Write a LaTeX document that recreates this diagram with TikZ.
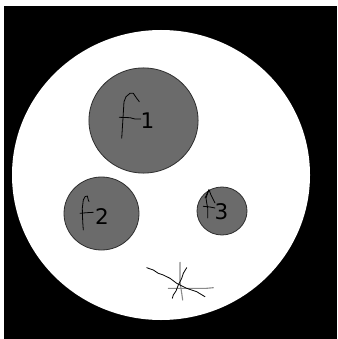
\documentclass[tikz,border=0pt]{standalone}
\usepackage{fontspec}
\setmainfont{DejaVu Sans}
\definecolor{blobgray}{HTML}{6B6B6B}
\definecolor{rimgray}{HTML}{2E2E2E}
\definecolor{scribgray}{HTML}{8A8A8A}
\tikzset{
  blob/.style={fill=blobgray, draw=rimgray, line width=0.8pt},
  digit/.style={font=\fontsize{21.5}{21.5}\selectfont, text=black, inner sep=0pt},
  ink/.style={draw=black, line width=0.8pt, line join=round, line cap=round},
  greyink/.style={draw=scribgray, line width=1.1pt, line cap=round},
}
\begin{document}
\begin{tikzpicture}[x=1pt,y=-1pt]
\useasboundingbox (0,0) rectangle (337,339);
\fill[white] (0,0) rectangle (337,339);
\fill[black] (4,6) rectangle (337,339);
% big white disc
\fill[white] (161,175) ellipse [x radius=149, y radius=145];
% grey discs
\draw[blob] (143.5,120.5) ellipse [x radius=54.6, y radius=52.6];
\draw[blob] (101.5,213.5) ellipse [x radius=37.5, y radius=36.5];
\draw[blob] (222,211) ellipse [x radius=25, y radius=24];
% labels
\node[digit] (l1) at (147.5,120.5) {1};
\node[digit] (l2) at (102,216.5) {2};
\node[digit] (l3) at (221.5,211.5) {3};
% hand-drawn f's
\draw[ink] (121.7,138.3) -- (123,118) -- (124,101.7) -- (126,96.7) -- (130,93.3) -- (133.3,93.3) -- (136.7,98.3) -- (139.3,101.7);
\draw[ink] (119.3,117.3) -- (130,117.7) -- (135,119) -- (140.7,119);
\draw[ink] (83.3,230) -- (82.7,221.7) -- (82.3,208.3) -- (83.3,200) -- (85,196.7) -- (87.3,196) -- (88.3,200) -- (89,201.5);
\draw[ink] (80,213.3) -- (86.7,212.7) -- (93.3,212.3);
\draw[ink] (207.7,218) -- (207.7,208) -- (206.7,203) -- (206,198) -- (207.7,193) -- (209,189.7) -- (211,195) -- (213.3,199.7) -- (215,203);
\draw[ink] (209,189.7) -- (205,198);
\draw[ink] (203.3,206.3) -- (210,207) -- (215,208);
% scribble star
\draw[greyink] (180,262.3) -- (180,281.7) -- (181.7,293.3) -- (182.7,300);
\draw[greyink] (168.3,288.3) -- (206.7,288.3) -- (213.3,287.7);
\draw[ink] (146.7,267.7) -- (153.3,270) -- (158.3,273.3) -- (163.3,275) -- (170,278.3) -- (176.7,283.3) -- (186.7,288.3) -- (196.7,291.7) -- (205,296.7);
\draw[ink] (186.7,267.7) -- (183.3,273.3) -- (181.7,278.3) -- (178.3,285) -- (176,291) -- (173.3,295) -- (172.3,298.3);
\end{tikzpicture}
\end{document}
